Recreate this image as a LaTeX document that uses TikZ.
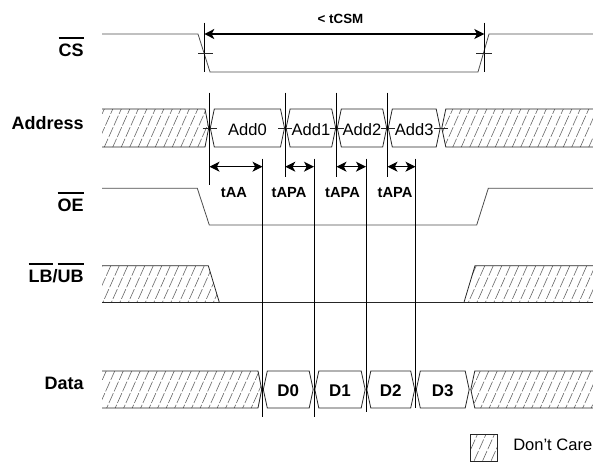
\documentclass[tikz,border=0pt]{standalone}
\usepackage{fontspec}
\setmainfont{Liberation Sans}
\usetikzlibrary{positioning, arrows.meta}

\newcommand\barsig[1]{\setbox0\hbox{#1}\rlap{\raisebox{\dimexpr\ht0+4pt\relax}{\rule{\wd0}{1.3pt}}}\box0}
\newcommand\hatchin[1]{%
  \begin{scope}
    \clip #1;
    \foreach \hx in {0,8.5,...,810} \draw[hatch] (\hx,0) -- (\hx-210,470);
  \end{scope}}

\begin{document}
\begin{tikzpicture}[x=0.75pt, y=-0.75pt, >={Stealth[length=7.5pt,width=7.5pt,inset=2pt]},
  sig/.style={line width=0.6pt, black!70},
  edge/.style={line width=0.6pt, black!85},
  hatch/.style={black!60, line width=0.45pt, dash pattern=on 8pt off 1.5pt},
  vline/.style={line width=0.7pt},
  dim/.style={<->, line width=0.9pt},
  lbl/.style={font=\bfseries\fontsize{13.5}{15}\selectfont, anchor=base east, inner sep=0},
  val/.style={font=\fontsize{12.4}{14}\selectfont, inner sep=0},
  dat/.style={font=\bfseries\fontsize{12.7}{14}\selectfont, inner sep=0},
  tim/.style={font=\bfseries\fontsize{11}{13}\selectfont, anchor=base, inner sep=0}]
\useasboundingbox (0,0) rectangle (593,461);

% signal names
\node (cs) [lbl] at (84,56.7) {\barsig{CS}};
\node (addr) [lbl] at (84,129.3) {Address};
\node (oe) [lbl] at (84,211.7) {\barsig{OE}};
\node (lbub) [lbl] at (84,282.7) {\barsig{LB}/\barsig{UB}};
\node (data) [lbl] at (84,389) {Data};

% CS and OE
\draw[sig] (102,34) -- (198,34) -- (210,72) -- (478,72) -- (489,34) -- (593,34);
\draw[sig] (102,188.3) -- (197.3,188.3) -- (209.3,225) -- (476.7,225) -- (488.3,188.3) -- (593,188.3);

% tCSM
\coordinate (csA) at (204.3,34);
\coordinate (csB) at (484.3,34);
\draw[vline] (204.3,22.7) -- (204.3,71.7);
\draw[vline] (484.3,22.7) -- (484.3,71.7);
\draw[edge] (198,53.3) -- (212.7,53.3);
\draw[edge] (476,53.3) -- (492,53.3);
\draw[dim] (csA) -- (csB);
\node (tcsm) [font=\bfseries\fontsize{10}{12}\selectfont, anchor=base, inner sep=0] at (340.5,23.3) {< tCSM};

% Address
\hatchin{(102,109) -- (205,109) -- (208.7,128) -- (205,147) -- (102,147) -- cycle}
\draw[edge] (102,109) -- (205,109) -- (208.7,128) -- (205,147) -- (102,147);
\foreach \a/\b/\t in {209.5/285.3/Add0, 285.3/336.5/Add1, 336.5/387.5/Add2, 387.5/441/Add3} {
  \draw[edge] (\a+0.8,128) -- (\a+4.8,109) -- (\b-4.8,109) -- (\b-0.8,128) -- (\b-4.8,147) -- (\a+4.8,147) -- cycle;
  \node (\t) [val] at ({(\a+\b)/2},129.5) {\t};
}
\hatchin{(441.8,128) -- (445.8,109) -- (593,109) -- (593,147) -- (445.8,147) -- cycle}
\draw[edge] (593,109) -- (445.8,109) -- (441.8,128) -- (445.8,147) -- (593,147);
\foreach \x in {209.5,285.3,336.5,387.5,441} \draw[edge] (\x-7,128) -- (\x+7,128);

% LB/UB
\hatchin{(102,265.7) -- (208.3,265.7) -- (219.3,302.3) -- (102,302.3) -- cycle}
\draw[edge] (102,265.7) -- (208.3,265.7) -- (219.3,302.3);
\hatchin{(464,302.3) -- (475,265.7) -- (593,265.7) -- (593,302.3) -- cycle}
\draw[edge] (464,302.3) -- (475,265.7) -- (593,265.7);
\draw[edge] (102,302.3) -- (593,302.3);

% Data
\hatchin{(102,371) -- (258,371) -- (261.7,389.5) -- (258,408) -- (102,408) -- cycle}
\draw[edge] (102,371) -- (258,371) -- (261.7,389.5) -- (258,408) -- (102,408);
\foreach \a/\b/\t in {262.5/314/D0, 314/366/D1, 366/415.5/D2, 415.5/470/D3} {
  \draw[edge] (\a+0.8,389.5) -- (\a+4.8,371) -- (\b-4.8,371) -- (\b-0.8,389.5) -- (\b-4.8,408) -- (\a+4.8,408) -- cycle;
  \node (\t) [dat] at ({(\a+\b)/2},390.3) {\t};
}
\hatchin{(470.8,389.5) -- (474.8,371) -- (593,371) -- (593,408) -- (474.8,408) -- cycle}
\draw[edge] (593,371) -- (474.8,371) -- (470.8,389.5) -- (474.8,408) -- (593,408);

% timing lines
\foreach \n/\x/\b in {a0/209.5/185, a1/285.3/177, a2/336.5/177, a3/387.5/177} {
  \coordinate (\n) at (\x,166.7);
  \draw[vline] (\x,92.5) -- (\x,\b);
}
\foreach \n/\x/\b in {d0/262.5/416.7, d1/314/416.7, d2/366/411.7, d3/415.5/408} {
  \coordinate (\n) at (\x,166.7);
  \draw[vline] (\x,158.5) -- (\x,\b);
}
\draw[dim] (a0) -- (d0);
\draw[dim] (a1) -- (d1);
\draw[dim] (a2) -- (d2);
\draw[dim] (a3) -- (d3);
\node (taa) [tim] at (234,197) {tAA};
\node (tapa1) [tim] at (289,197) {tAPA};
\node (tapa2) [tim] at (342.5,197) {tAPA};
\node (tapa3) [tim] at (395,197) {tAPA};

% legend
\node (key) [minimum width=19.9pt, minimum height=19.5pt, inner sep=0] at (484.25,447.75) {};
\hatchin{(key.south west) rectangle (key.north east)}
\draw[edge] (key.south west) rectangle (key.north east);
\node (dc) [right=11.4pt of key.east, yshift=2.5pt, font=\fontsize{12.4}{14}\selectfont, inner sep=0] {Don’t Care};
\end{tikzpicture}
\end{document}
